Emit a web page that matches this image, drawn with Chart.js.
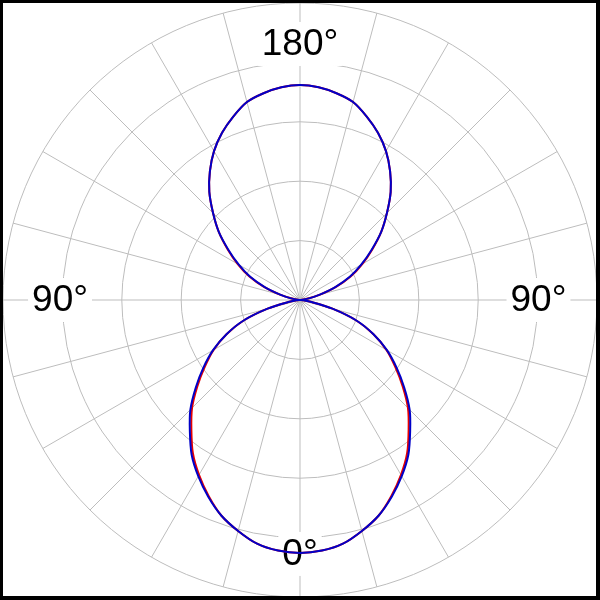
<!DOCTYPE html>
<html>
<head>
<meta charset="utf-8">
<script src="https://cdn.jsdelivr.net/npm/chart.js@4.4.1/dist/chart.umd.min.js"></script>
<style>
  html, body { margin: 0; padding: 0; background: #fff; }
  #wrap { width: 600px; height: 600px; }
</style>
</head>
<body>
<div id="wrap"><canvas id="c" width="600" height="600"></canvas></div>
<script>
// Angles (degrees, 0 at bottom, increasing clockwise through the left side)
const angles = [];
for (let a = 0; a < 360; a += 5) angles.push(a);

// Measured pattern (blue), normalised so that the outer ring = 1.0
const measured = [
  0.852,0.847,0.833,0.805,0.773,0.731,0.685,0.636,0.577,0.522,0.458,0.397,0.338,0.273,0.202,0.113,0.040,0.010,0,
  0.008,0.027,0.067,0.125,0.185,0.238,0.294,0.357,0.414,0.475,0.529,0.579,0.621,0.657,0.690,0.707,0.719,
  0.724,
  0.719,0.707,0.690,0.657,0.621,0.579,0.529,0.475,0.414,0.357,0.294,0.238,0.185,0.125,0.067,0.027,0.008,
  0,
  0.010,0.040,0.113,0.202,0.273,0.338,0.397,0.458,0.522,0.577,0.636,0.685,0.731,0.773,0.805,0.833,0.847
];

// Reference pattern (red)
const reference = [
  0.852,0.847,0.833,0.805,0.773,0.728,0.680,0.629,0.569,0.514,0.451,0.391,0.336,0.273,0.202,0.113,0.040,0.010,0,
  0.008,0.028,0.070,0.129,0.189,0.242,0.297,0.357,0.414,0.475,0.529,0.579,0.621,0.657,0.690,0.707,0.719,
  0.724,
  0.719,0.707,0.690,0.657,0.621,0.579,0.529,0.475,0.414,0.357,0.297,0.242,0.189,0.129,0.070,0.028,0.008,
  0,
  0.010,0.040,0.113,0.202,0.273,0.336,0.391,0.451,0.514,0.569,0.629,0.680,0.728,0.773,0.805,0.833,0.847
];

// Angle labels shown on the plot: [angle, text, radial position]
const axisLabels = [
  [180, '180°', 0.862],
  [90,  '90°',  0.808],
  [270, '90°',  0.803],
  [0,   '0°',   0.855]
];

const labelPlugin = {
  id: 'angleLabels',
  beforeDatasetsDraw(chart) {
    const ctx = chart.ctx;
    const scale = chart.scales.r;
    ctx.save();
    ctx.font = '37px "Liberation Sans", Arial, sans-serif';
    ctx.textAlign = 'center';
    ctx.textBaseline = 'middle';
    axisLabels.forEach(([ang, txt, val]) => {
      const idx = angles.indexOf(ang);
      const p = scale.getPointPositionForValue(idx, val);
      const w = ctx.measureText(txt).width + 8;
      const h = 44;
      ctx.fillStyle = '#fff';
      ctx.fillRect(p.x - w / 2, p.y - h / 2, w, h);
      ctx.fillStyle = '#000';
      ctx.fillText(txt, p.x, p.y + 1);
    });
    ctx.restore();
  },
  afterDraw(chart) {
    const ctx = chart.ctx;
    ctx.save();
    ctx.fillStyle = '#000';
    ctx.fillRect(0, 0, 600, 3);
    ctx.fillRect(0, 0, 3, 600);
    ctx.fillRect(596, 0, 4, 600);
    ctx.fillRect(0, 596, 600, 4);
    ctx.restore();
  }
};

new Chart(document.getElementById('c'), {
  type: 'radar',
  data: {
    labels: angles.map(a => a + '°'),
    datasets: [
      {
        label: 'measured',
        data: measured,
        borderColor: 'rgb(0,0,200)',
        borderWidth: 2,
        pointRadius: 0,
        fill: false,
        tension: 0.3,
        order: 0
      },
      {
        label: 'reference',
        data: reference,
        borderColor: 'rgb(230,0,0)',
        borderWidth: 2,
        pointRadius: 0,
        fill: false,
        tension: 0.3,
        order: 1
      }
    ]
  },
  options: {
    responsive: false,
    animation: false,
    layout: { padding: 3 },
    plugins: { legend: { display: false }, tooltip: { enabled: false } },
    scales: {
      r: {
        min: 0,
        max: 1,
        startAngle: 180,
        ticks: { display: false, stepSize: 0.2 },
        grid: { circular: true, color: '#bdbdbd', lineWidth: 1 },
        angleLines: {
          display: true,
          color: '#bdbdbd',
          lineWidth: (c) => (angles[c.index] % 15 === 0 ? 1 : 0)
        },
        pointLabels: { display: false }
      }
    }
  },
  plugins: [labelPlugin]
});
</script>
</body>
</html>
